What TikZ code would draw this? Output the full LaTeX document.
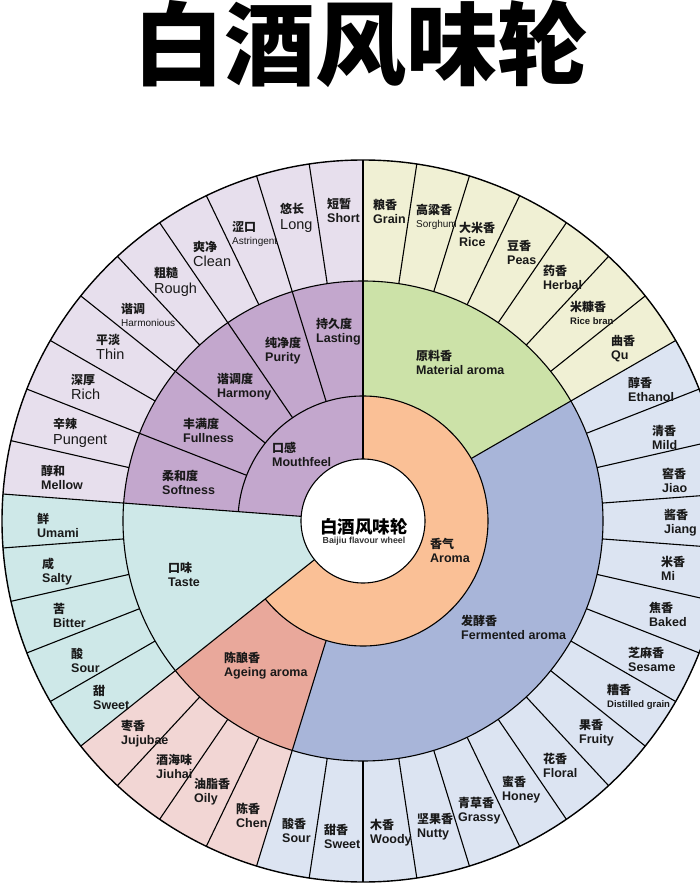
\documentclass[tikz,border=0pt]{standalone}
\usepackage{fontspec}
\setmainfont{Liberation Sans}
\newfontfamily\cjk{Noto Sans CJK SC}
\definecolor{moutho}{HTML}{E7DFED}
\definecolor{mouth}{HTML}{C3A7CD}
\definecolor{mato}{HTML}{F0F0D4}
\definecolor{mat}{HTML}{CCE2A8}
\definecolor{fermo}{HTML}{DCE4F2}
\definecolor{ferm}{HTML}{A8B5D9}
\definecolor{ageo}{HTML}{F2D6D4}
\definecolor{age}{HTML}{E9A89B}
\definecolor{taste}{HTML}{CEE8E8}
\definecolor{aroma}{HTML}{FAC096}
\newcommand\sector[5]{\fill[#5] (#1:#3) arc[start angle=#1,end angle=#2,radius=#3] -- (#2:#4) arc[start angle=#2,end angle=#1,radius=#4] -- cycle;}
\newcommand\zhb[1]{{\cjk\bfseries\fontsize{12}{14}\selectfont #1}}
\newcommand\enb[1]{{\bfseries\fontsize{12.5}{14}\selectfont #1}}
\newcommand\enr[1]{{\fontsize{14.5}{15}\selectfont #1}}
\newcommand\ens[1]{{\fontsize{10}{12}\selectfont #1}}
\newcommand\ensb[1]{{\bfseries\fontsize{9.5}{12}\selectfont #1}}
\tikzset{
  ring/.style={line width=1.1pt, black},
  lbl/.style={anchor=west, align=left, inner sep=0pt, text=black!90, font=\fontsize{12.5}{14}\selectfont},
  lblr/.style={lbl, font=\fontsize{14.5}{15.5}\selectfont},
  lbls/.style={lbl, font=\fontsize{10}{13}\selectfont},
}
\begin{document}
\begin{tikzpicture}[x=1pt,y=1pt]
\useasboundingbox (-363,-365) rectangle (337,521);
\clip (-363,-365) rectangle (337,521);
\fill[white] (-363,-365) rectangle (337,521);
\def\s{8.571428}
\def\ra{62pt}\def\rb{125pt}\def\rc{240pt}\def\rd{361pt}
% fills
\sector{90}{175.714}{\rc}{\rd}{moutho}
\sector{175.714}{218.571}{\ra}{\rd}{taste}
\sector{218.571}{252.857}{\rc}{\rd}{ageo}
\sector{252.857}{390}{\rc}{\rd}{fermo}
\sector{30}{90}{\rc}{\rd}{mato}
\sector{90}{175.714}{\ra}{\rc}{mouth}
\sector{218.571}{252.857}{\rb}{\rc}{age}
\sector{252.857}{390}{\rb}{\rc}{ferm}
\sector{30}{90}{\rb}{\rc}{mat}
\sector{218.571}{450}{\ra}{\rb}{aroma}
% rings
\draw[ring, line width=1.4pt] (0,0) circle[radius=\rd];
\draw[ring] (0,0) circle[radius=\rc];
\draw[ring] (218.571:\rb) arc[start angle=218.571, end angle=535.714, radius=\rb];
% radial lines
\foreach \a in {90,175.714,218.571} \draw[ring] (\a:\ra) -- (\a:\rd);
\foreach \a in {30,252.857,107.143,124.286,141.429,158.571} \draw[ring] (\a:\rb) -- (\a:\rd);
\foreach \k in {1,3,5,7,9,11,12,13,14,16,17,18,20,21,22,23,24,25,26,27,28,29,30,31,32,33,34,36,37,38,39,40,41}
  \draw[ring] ({90+\k*\s}:\rc) -- ({90+\k*\s}:\rd);
\fill[white] (0,0) circle[radius=\ra];
\draw[ring] (0,0) circle[radius=\ra];
% title and centre
\node[inner sep=0pt, font=\cjk\bfseries\fontsize{91}{91}\selectfont] (title) at (-2,477) {白酒风味轮};
\node[inner sep=0pt, font=\cjk\bfseries\fontsize{17.5}{18}\selectfont] (ctr) at (1,-6) {白酒风味轮};
\node[inner sep=0pt, text=black!80, font=\bfseries\fontsize{8.8}{9}\selectfont] (ctren) at (1,-20) {Baijiu flavour wheel};
% mouthfeel outer
\node[lbl] (short) at (-36,311) {\zhb{短暂}\\\enb{Short}};
\node[lblr] (long) at (-83,303) {\zhb{悠长}\\\enr{Long}};
\node[lbls] (astr) at (-131,287) {\zhb{涩口}\\\ens{Astringent}};
\node[lblr] (clean) at (-170,267) {\zhb{爽净}\\\enr{Clean}};
\node[lblr] (rough) at (-209,239) {\zhb{粗糙}\\\enr{Rough}};
\node[lbls] (harmo) at (-242,206) {\zhb{谐调}\\\ens{Harmonious}};
\node[lblr] (thin) at (-267,174) {\zhb{平淡}\\\enr{Thin}};
\node[lblr] (rich) at (-292,134) {\zhb{深厚}\\\enr{Rich}};
\node[lblr] (pung) at (-310,88) {\zhb{辛辣}\\\enr{Pungent}};
\node[lbl] (mellow) at (-322,44) {\zhb{醇和}\\\enb{Mellow}};
% mouthfeel middle
\node[lbl] (soft) at (-201,39) {\zhb{柔和度}\\\enb{Softness}};
\node[lbl] (full) at (-180,91) {\zhb{丰满度}\\\enb{Fullness}};
\node[lbl] (harmy) at (-146,134) {\zhb{谐调度}\\\enb{Harmony}};
\node[lbl] (pur) at (-98,170) {\zhb{纯净度}\\\enb{Purity}};
\node[lbl] (last) at (-47,189) {\zhb{持久度}\\\enb{Lasting}};
\node[lbl] (mfeel) at (-91,67) {\zhb{口感}\\\enb{Mouthfeel}};
% material
\node[lbl] (grain) at (10,310) {\zhb{粮香}\\\enb{Grain}};
\node[lbls] (sorg) at (53,304) {\zhb{高粱香}\\\ens{Sorghum}};
\node[lbl] (rice) at (96,287) {\zhb{大米香}\\\enb{Rice}};
\node[lbl] (peas) at (144,269) {\zhb{豆香}\\\enb{Peas}};
\node[lbl] (herb) at (180,244) {\zhb{药香}\\\enb{Herbal}};
\node[lbls] (bran) at (207,208) {\zhb{米糠香}\\\ensb{Rice bran}};
\node[lbl] (qu) at (248,172) {\zhb{曲香}\\\enb{Qu}};
\node[lbl] (matar) at (53,159) {\zhb{原料香}\\\enb{Material aroma}};
% fermented
\node[lbl] (eth) at (265,132) {\zhb{醇香}\\\enb{Ethanol}};
\node[lbl] (mild) at (289,84) {\zhb{清香}\\\enb{Mild}};
\node[lbl] (jiao) at (299,41) {\zhb{窖香}\\\enb{Jiao}};
\node[lbl] (jiang) at (301,-2) {\zhb{酱香}\\\enb{Jiang}};
\node[lbl] (mi) at (298,-47) {\zhb{米香}\\\enb{Mi}};
\node[lbl] (baked) at (286,-93) {\zhb{焦香}\\\enb{Baked}};
\node[lbl] (ses) at (265,-138) {\zhb{芝麻香}\\\enb{Sesame}};
\node[lbls] (dist) at (244,-176) {\zhb{糟香}\\\ensb{Distilled grain}};
\node[lbl] (fruit) at (216,-212) {\zhb{果香}\\\enb{Fruity}};
\node[lbl] (flor) at (180,-244) {\zhb{花香}\\\enb{Floral}};
\node[lbl] (honey) at (139,-269) {\zhb{蜜香}\\\enb{Honey}};
\node[lbl] (grass) at (95,-290) {\zhb{青草香}\\\enb{Grassy}};
\node[lbl] (nut) at (54,-306) {\zhb{坚果香}\\\enb{Nutty}};
\node[lbl] (wood) at (7,-312) {\zhb{木香}\\\enb{Woody}};
\node[lbl] (fsweet) at (-39,-315) {\zhb{甜香}\\\enb{Sweet}};
\node[lbl] (fsour) at (-81,-309) {\zhb{酸香}\\\enb{Sour}};
\node[lbl] (fermar) at (98,-106) {\zhb{发酵香}\\\enb{Fermented aroma}};
\node[lbl] (arom) at (67,-29) {\zhb{香气}\\\enb{Aroma}};
% ageing
\node[lbl] (chen) at (-127,-294) {\zhb{陈香}\\\enb{Chen}};
\node[lbl] (oily) at (-169,-271) {\zhb{油脂香}\\\enb{Oily}};
\node[lbl] (jiuhai) at (-207,-245) {\zhb{酒海味}\\\enb{Jiuhai}};
\node[lbl] (juju) at (-242,-213) {\zhb{枣香}\\\enb{Jujubae}};
\node[lbl] (ageing) at (-139,-145) {\zhb{陈酿香}\\\enb{Ageing aroma}};
% taste
\node[lbl] (umami) at (-326,-4) {\zhb{鲜}\\\enb{Umami}};
\node[lbl] (salty) at (-321,-51) {\zhb{咸}\\\enb{Salty}};
\node[lbl] (bitter) at (-310,-94) {\zhb{苦}\\\enb{Bitter}};
\node[lbl] (tsour) at (-292,-139) {\zhb{酸}\\\enb{Sour}};
\node[lbl] (tsweet) at (-270,-176) {\zhb{甜}\\\enb{Sweet}};
\node[lbl] (taste) at (-195,-53) {\zhb{口味}\\\enb{Taste}};
\end{tikzpicture}
\end{document}
